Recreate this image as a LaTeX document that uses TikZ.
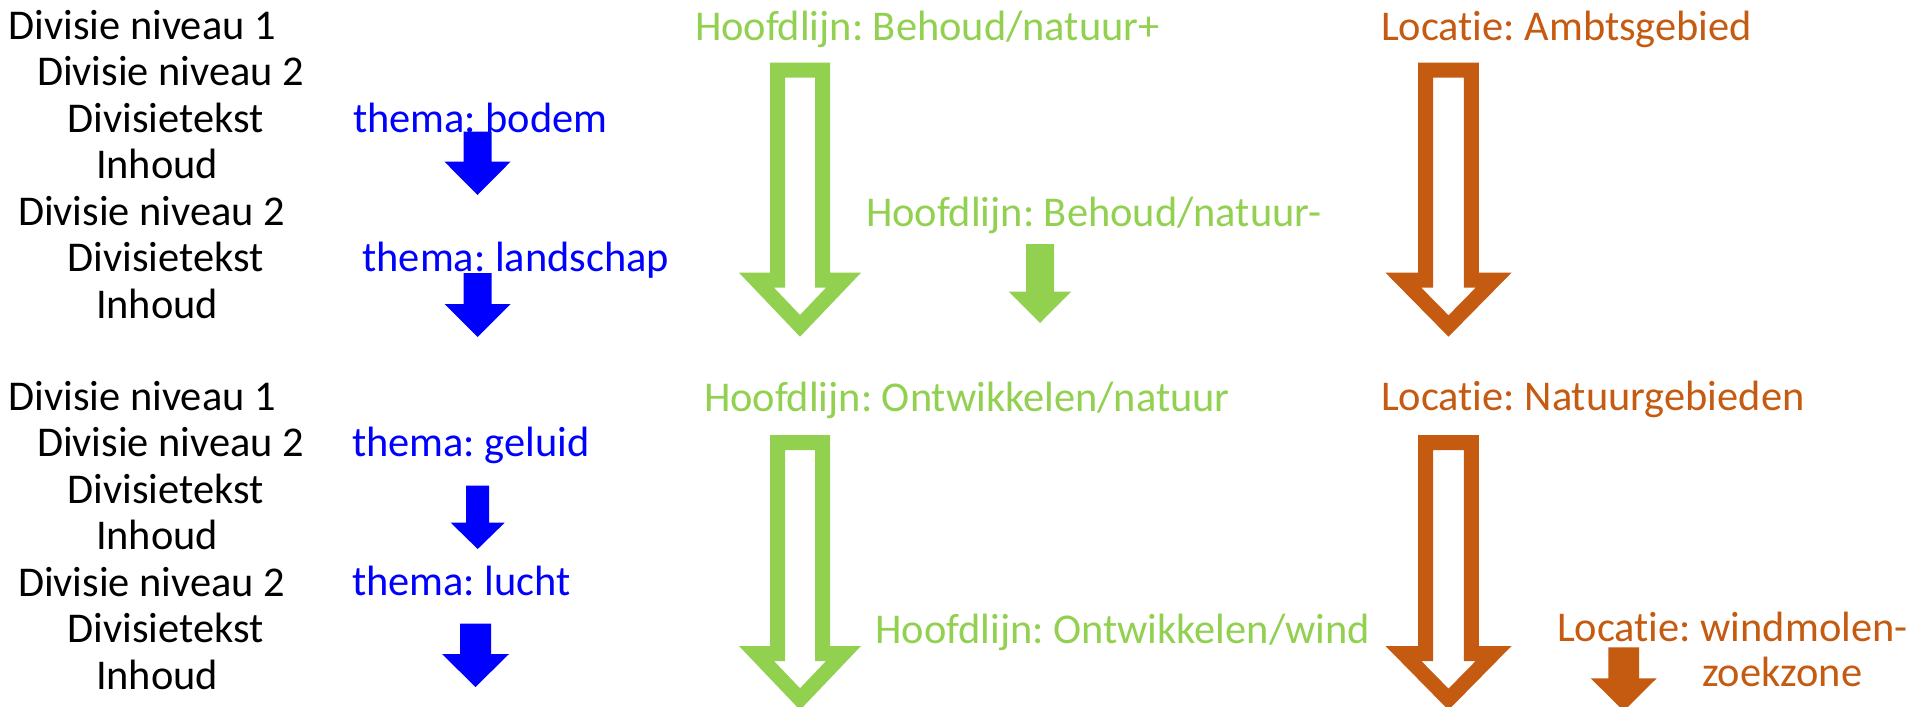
\documentclass[tikz,border=0pt]{standalone}
\usepackage{fontspec}
\setmainfont[Ligatures=NoCommon]{Carlito}
\frenchspacing
\definecolor{themablue}{HTML}{0000FF}
\definecolor{hfdgreen}{HTML}{92D050}
\definecolor{locorange}{HTML}{C55A11}
\newcommand\Loc{Locat\kern0pt ie}
% solid block arrow: centre x, top, head base, tip, shaft half width, head half width, colour
\newcommand\solidarr[7]{%
  \fill[#7] ({#1-#5},#2) -- ({#1+#5},#2) -- ({#1+#5},#3) -- ({#1+#6},#3) -- (#1,#4)
    -- ({#1-#6},#3) -- ({#1-#5},#3) -- cycle;}
% hollow block arrow (outline 15 wide)
\newcommand\hollowarr[7]{%
  \pgfmathsetmacro\LLen{#4-#3}%
  \pgfmathsetmacro\DDia{sqrt(#6*#6+\LLen*\LLen)}%
  \pgfmathsetmacro\iTip{#4-15*\DDia/#6}%
  \pgfmathsetmacro\iHw{(\iTip-#3-15)*#6/\LLen}%
  \fill[#7, even odd rule]
    ({#1-#5},#2) -- ({#1+#5},#2) -- ({#1+#5},#3) -- ({#1+#6},#3) -- (#1,#4)
    -- ({#1-#6},#3) -- ({#1-#5},#3) -- cycle
    ({#1-#5+15},{#2+15}) -- ({#1+#5-15},{#2+15}) -- ({#1+#5-15},{#3+15}) -- ({#1+\iHw},{#3+15})
    -- (#1,\iTip) -- ({#1-\iHw},{#3+15}) -- ({#1-#5+15},{#3+15}) -- cycle;}
\tikzset{
  txt/.style={anchor=base west, inner sep=0pt, outer sep=0pt,
    font=\fontsize{42.4}{46}\selectfont\frenchspacing},
  divtxt/.style={txt, text=black},
  thematxt/.style={txt, text=themablue},
  hfdtxt/.style={txt, text=hfdgreen},
  loctxt/.style={txt, text=locorange}
}
\begin{document}
\begin{tikzpicture}[x=1pt, y=-1pt]
\clip (0,0) rectangle (1915,707);
\fill[white] (0,0) rectangle (1915,707);

% left column, top block
\node[divtxt] (d1) at (8.5,39) {Divisie niveau 1};
\node[divtxt] (d2) at (37,85.5) {Divisie niveau 2};
\node[divtxt] (d3) at (67.5,132) {Divisietekst};
\node[divtxt] (d4) at (96,178.5) {Inhoud};
\node[divtxt] (d5) at (18,225) {Divisie niveau 2};
\node[divtxt] (d6) at (67.5,271.5) {Divisietekst};
\node[divtxt] (d7) at (96,318) {Inhoud};
% left column, bottom block
\node[divtxt] (e1) at (8.5,410) {Divisie niveau 1};
\node[divtxt] (e2) at (37,456.5) {Divisie niveau 2};
\node[divtxt] (e3) at (67.5,503) {Divisietekst};
\node[divtxt] (e4) at (96,549.5) {Inhoud};
\node[divtxt] (e5) at (18,596) {Divisie niveau 2};
\node[divtxt] (e6) at (67.5,642.5) {Divisietekst};
\node[divtxt] (e7) at (96,689) {Inhoud};

% thema labels
\node[thematxt] (t1) at (353,132) {thema: bodem};
\node[thematxt] (t2) at (362.5,271.5) {thema: landschap};
\node[thematxt] (t3) at (352,456.5) {thema: geluid};
\node[thematxt] (t4) at (352,595.5) {thema: lucht};

% hoofdlijn labels
\node[hfdtxt] (h1) at (695,40) {Hoofdlijn: Behoud/natuur+};
\node[hfdtxt] (h2) at (866,226.7) {Hoofdlijn: Behoud/natuur-};
\node[hfdtxt] (h3) at (704,411) {Hoofdlijn: Ontwikkelen/natuur};
\node[hfdtxt] (h4) at (875.5,643) {Hoofdlijn: Ontwikkelen/wind};

% locatie labels
\node[loctxt] (l1) at (1381,40) {\Loc: Ambtsgebied};
\node[loctxt] (l2) at (1381,410) {\Loc: Natuurgebieden};
\node[loctxt] (l3) at (1557,641.7) {\Loc: windmolen-};
\node[loctxt] (l3b) at (1702,686.7) {zoekzone};

% blue solid arrows
\solidarr{477.5}{131.7}{161.7}{195}{14}{33}{themablue}
\solidarr{477.5}{273}{304}{337}{14}{33}{themablue}
\solidarr{477.7}{485.5}{522.7}{549}{11.5}{27}{themablue}
\solidarr{475.5}{623.5}{654}{687}{15.5}{33.5}{themablue}

% green arrows
\hollowarr{800}{62.7}{272.7}{336.7}{30}{61}{hfdgreen}
\hollowarr{800}{435}{646}{710}{30}{61}{hfdgreen}
\solidarr{1040}{244}{291.5}{323}{14}{31.3}{hfdgreen}

% orange arrows
\hollowarr{1448.5}{62.7}{272.7}{336.7}{30.4}{63}{locorange}
\hollowarr{1448.5}{435}{646}{710}{30.4}{63}{locorange}
\solidarr{1623.7}{647.3}{678.3}{711}{15.3}{33}{locorange}
\end{tikzpicture}
\end{document}
